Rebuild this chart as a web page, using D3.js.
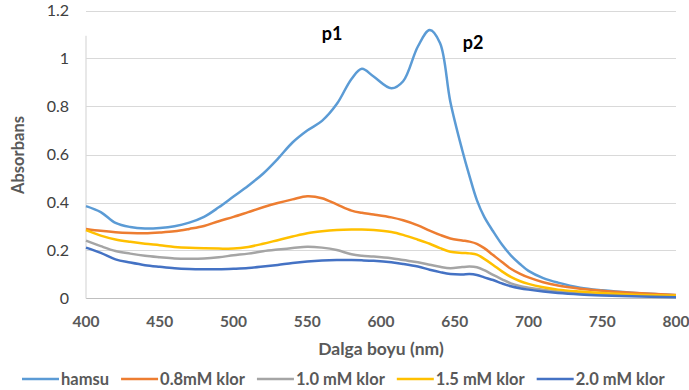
<!DOCTYPE html>
<html>
<head>
<meta charset="utf-8">
<script src="https://cdn.jsdelivr.net/npm/d3@7"></script>
<style>
  body { margin: 0; background: #fff; }
  svg { display: block; font-family: Lato, "Open Sans", sans-serif; }
</style>
</head>
<body>
<svg></svg>
<script>
// wavelengths (nm)
var wavelengths = [400,410,420,430,440,450,460,470,480,490,500,510,520,530,540,550,560,570,580,587,595,607,615,625,633,640,647,655,660,665,670,676,682,688,694,700,710,720,735,750,770,800];

var hamsu = [0.385,0.36,0.315,0.298,0.292,0.294,0.301,0.316,0.34,0.38,0.425,0.47,0.52,0.582,0.65,0.70,0.74,0.81,0.915,0.957,0.925,0.876,0.905,1.05,1.119,1.065,0.82,0.62,0.51,0.41,0.34,0.28,0.225,0.18,0.145,0.115,0.085,0.066,0.045,0.034,0.024,0.014];
var klor08 = [0.29,0.282,0.276,0.273,0.272,0.275,0.28,0.29,0.302,0.322,0.34,0.36,0.38,0.398,0.413,0.426,0.418,0.392,0.366,0.357,0.35,0.338,0.326,0.305,0.283,0.265,0.25,0.242,0.237,0.228,0.21,0.181,0.152,0.124,0.104,0.088,0.068,0.054,0.041,0.032,0.024,0.015];
var klor10 = [0.241,0.218,0.198,0.187,0.178,0.172,0.167,0.166,0.167,0.172,0.18,0.187,0.197,0.204,0.21,0.216,0.212,0.202,0.184,0.178,0.175,0.168,0.16,0.151,0.141,0.132,0.126,0.131,0.133,0.13,0.118,0.098,0.08,0.063,0.052,0.045,0.036,0.029,0.022,0.017,0.012,0.008];
var klor15 = [0.285,0.262,0.246,0.236,0.228,0.222,0.215,0.211,0.209,0.208,0.208,0.215,0.228,0.243,0.258,0.272,0.28,0.285,0.287,0.287,0.285,0.277,0.265,0.245,0.228,0.21,0.195,0.19,0.188,0.183,0.165,0.14,0.113,0.09,0.073,0.061,0.047,0.037,0.029,0.023,0.017,0.012];
var klor20 = [0.212,0.19,0.163,0.15,0.139,0.132,0.126,0.123,0.122,0.122,0.124,0.127,0.133,0.14,0.148,0.154,0.158,0.16,0.16,0.159,0.157,0.151,0.144,0.133,0.12,0.11,0.102,0.1,0.102,0.098,0.088,0.077,0.063,0.051,0.043,0.037,0.029,0.023,0.017,0.013,0.009,0.005];

var seriesNames = ["hamsu","0.8mM klor","1.0 mM klor","1.5 mM klor","2.0 mM klor"];
var seriesColors = ["#5B9BD5","#ED7D31","#A5A5A5","#FFC000","#4472C4"];
var seriesValues = [hamsu, klor08, klor10, klor15, klor20];

var xTicks = [400,450,500,550,600,650,700,750,800];
var yTicks = [0,0.2,0.4,0.6,0.8,1,1.2];

var width = 689, height = 390;
var svg = d3.select("svg").attr("width", width).attr("height", height);

var x = d3.scaleLinear().domain([400,800]).range([86,676]);
var y = d3.scaleLinear().domain([0,1.2]).range([298.5,10.5]);

// gridlines
svg.selectAll("line.grid")
   .data(yTicks.filter(function(d){ return d > 0; }))
   .enter()
   .append("line")
   .attr("class","grid")
   .attr("x1", x(400)).attr("x2", x(800))
   .attr("y1", function(d){ return Math.round(y(d)) + 0.5; })
   .attr("y2", function(d){ return Math.round(y(d)) + 0.5; })
   .attr("stroke","#D9D9D9")
   .attr("stroke-width",1);

// axes lines
svg.append("line")
   .attr("x1", x(400)).attr("x2", x(800))
   .attr("y1", y(0)).attr("y2", y(0))
   .attr("stroke","#BFBFBF").attr("stroke-width",1.2);
svg.append("line")
   .attr("x1", x(400)).attr("x2", x(400))
   .attr("y1", y(1.095)).attr("y2", y(0))
   .attr("stroke","#D9D9D9").attr("stroke-width",1.2);

// tick labels
svg.selectAll("text.ytick")
   .data(yTicks)
   .enter()
   .append("text")
   .attr("class","ytick")
   .attr("x", 69)
   .attr("y", function(d){ return y(d); })
   .attr("dy","0.35em")
   .attr("text-anchor","end")
   .attr("font-size",16)
   .attr("fill","#404040")
   .text(function(d){ return d; });

svg.selectAll("text.xtick")
   .data(xTicks)
   .enter()
   .append("text")
   .attr("class","xtick")
   .attr("x", function(d){ return x(d); })
   .attr("y", 322)
   .attr("dy","0.35em")
   .attr("text-anchor","middle")
   .attr("font-size",15.5)
   .attr("font-weight","bold")
   .attr("fill","#595959")
   .text(function(d){ return d; });

// axis titles
svg.append("text")
   .attr("x", 381).attr("y", 349)
   .attr("dy","0.35em")
   .attr("text-anchor","middle")
   .attr("font-size",17.5)
   .attr("font-weight","bold")
   .attr("fill","#595959")
   .text("Dalga boyu (nm)");
svg.append("text")
   .attr("transform","translate(18,155) rotate(-90)")
   .attr("dy","0.35em")
   .attr("text-anchor","middle")
   .attr("font-size",16.5)
   .attr("font-weight","bold")
   .attr("fill","#595959")
   .text("Absorbans");

// series lines
var line = d3.line()
   .x(function(d){ return x(d[0]); })
   .y(function(d){ return y(d[1]); })
   .curve(d3.curveCatmullRom.alpha(0.5));

seriesValues.forEach(function(vals, i)
{
  var pts = wavelengths.map(function(w, j){ return [w, vals[j]]; });
  svg.append("path")
     .datum(pts)
     .attr("d", line)
     .attr("fill","none")
     .attr("stroke", seriesColors[i])
     .attr("stroke-width",2.5)
     .attr("stroke-linejoin","round");
});

// peak labels
svg.append("text").attr("x",332).attr("y",34).attr("dy","0.35em")
   .attr("text-anchor","middle").attr("font-size",18).attr("font-weight","bold")
   .attr("fill","#000").text("p1");
svg.append("text").attr("x",473).attr("y",43).attr("dy","0.35em")
   .attr("text-anchor","middle").attr("font-size",18).attr("font-weight","bold")
   .attr("fill","#000").text("p2");

// legend
var lx = 22, ly = 379;
seriesNames.forEach(function(name, i)
{
  svg.append("line")
     .attr("x1", lx).attr("x2", lx + 37)
     .attr("y1", ly).attr("y2", ly)
     .attr("stroke", seriesColors[i]).attr("stroke-width",2.5);
  var t = svg.append("text")
     .attr("x", lx + 39).attr("y", ly)
     .attr("dy","0.35em")
     .attr("font-size",16.5)
     .attr("font-weight","bold")
     .attr("fill","#595959")
     .text(name);
  lx = lx + 39 + t.node().getComputedTextLength() + 12;
});
</script>
</body>
</html>
